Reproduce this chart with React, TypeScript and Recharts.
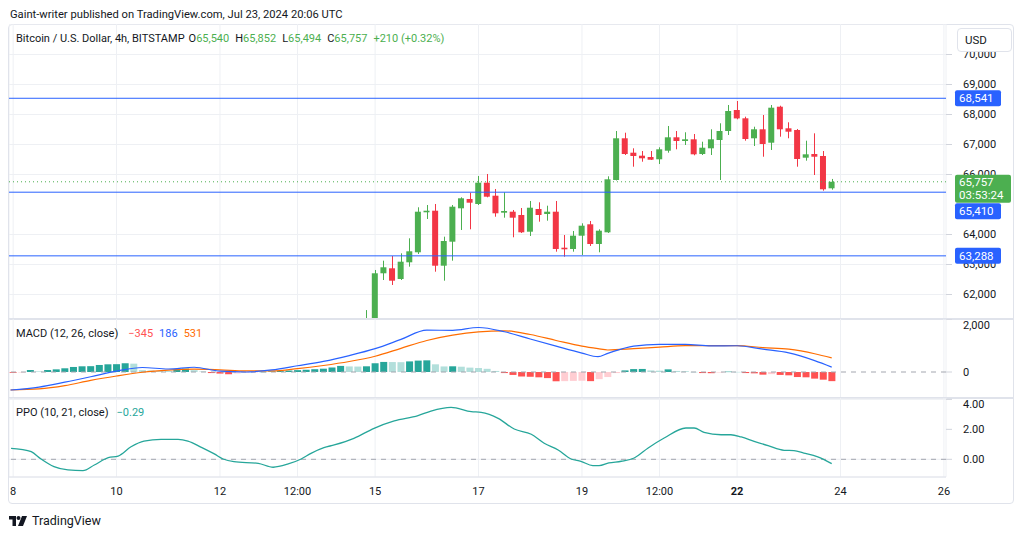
import {
  ComposedChart,
  Bar,
  Line,
  XAxis,
  YAxis,
  CartesianGrid,
  ReferenceLine,
} from 'recharts'

const GREEN = '#4CAF50'
const RED = '#F23645'
const BLUE = '#2962FF'
const ORANGE = '#FF6D00'
const TEAL = '#26A69A'
const GRID = '#eef0f4'
const SEP = '#e0e3eb'
const TEXT = '#131722'
const FONT = 'Roboto, "Noto Sans", sans-serif'

const CHART_W = 1006
const AXIS_W = 69
const X_DOMAIN: [number, number] = [7.92, 26.04]
const PRICE_DOMAIN: [number, number] = [61183, 71017]

// time axis in days of July 2024
const xTicks = [8, 10, 12, 13.5, 15, 17, 19, 20.5, 22, 24, 26]
const xTickLabels = ['8', '10', '12', '12:00', '15', '17', '19', '12:00', '22', '24', '26']
const weekStart = 22

// BTC/USD 4h candles, first one opens Jul 14 20:00
const firstCandle = 14 + 20 / 24
const opens = [
  60950, 61100, 62707, 62873, 62517, 63073, 63407, 64740, 64793, 62960,
  63760, 64873, 65183, 65017, 65727, 65293, 64727, 64760, 64650, 64093,
  64850, 64683, 64760, 63560, 63517, 63960, 64340, 63683, 64073, 65817,
  67207, 66727, 66627, 66583, 66507, 66793, 67240, 67117, 67173, 66683,
  66873, 67150, 67450, 68150, 67873, 67207, 67507, 67060, 68260, 67540,
  67483, 66560, 66683, 66617, 65540,
]
const highs = [
  61480, 62817, 63127, 63283, 63373, 63873, 64907, 64983, 65017, 63927,
  64983, 65240, 65393, 65950, 66017, 65517, 65407, 64817, 64883, 65117,
  65073, 64960, 65117, 63983, 64117, 64373, 64450, 64173, 65940, 67450,
  67393, 66873, 66783, 66783, 66907, 67617, 67450, 67407, 67350, 67093,
  67507, 67707, 68317, 68450, 67927, 67593, 67983, 68317, 68293, 67740,
  67517, 67127, 67373, 66783, 65852,
]
const lows = [
  60650, 61000, 62483, 62317, 62483, 62927, 63350, 64517, 62760, 62460,
  63127, 64150, 64173, 64983, 65240, 64593, 64560, 63907, 64050, 63950,
  64427, 64460, 63427, 63260, 63427, 63317, 63617, 63407, 64050, 65800,
  66650, 66260, 66427, 66483, 66350, 66727, 66840, 66983, 66640, 66650,
  66650, 65817, 67317, 67840, 67127, 66950, 66593, 66817, 67260, 67207,
  66260, 66460, 65983, 65460, 65494,
]
const closes = [
  61150, 62707, 62907, 62460, 63093, 63440, 64760, 64793, 62960, 63783,
  64927, 65207, 65060, 65727, 65260, 64707, 64783, 64560, 64073, 64893,
  64650, 64760, 63517, 63507, 63960, 64293, 63683, 64127, 65840, 67207,
  66683, 66617, 66540, 66493, 66840, 67240, 67117, 67173, 66673, 66893,
  67173, 67450, 68117, 67870, 67183, 67507, 67017, 68227, 67507, 67427,
  66517, 66673, 66593, 65507, 65757,
]
// 65,000 sits fully under the 65,410 tag in the original, so it is left out
const priceTicks = [62000, 63000, 64000, 66000, 67000, 68000, 69000, 70000]
const levels = [68541, 65410, 63288]
const lastPrice = 65757
const countdown = '03:53:24'

// MACD (12, 26, close), histogram one bar per 4h from Jul 8 00:00
const histStart = 8
const macdHist = [
  -30, -20, 75, 25, 75, 100, 140, 190, 215, 220,
  265, 290, 295, 330, 315, 70, 60, 45, 40, 90,
  130, 70, 20, -40, -60, -85, -55, -25, -5, 10,
  25, 40, 55, 70, 85, 105, 125, 170, 230, 210,
  205, 215, 330, 380, 375, 370, 400, 430, 440, 290,
  210, 215, 200, 165, 150, 120, 40, -40, -110, -170,
  -180, -200, -230, -350, -345, -335, -330, -345, -270, -190,
  -40, 60, 110, 115, 60, 50, 100, 40, 30, 5,
  -40, -45, -20, 15, 5, -40, -50, -100, -80, -110,
  -125, -190, -200, -250, -290, -345,
]
const macdDays = [
  7.95, 8.5, 9, 9.5, 10, 10.5, 11, 11.5, 12, 12.5,
  13, 13.5, 14, 14.5, 15, 15.5, 16, 16.5, 17, 17.5,
  18, 18.5, 19, 19.31, 19.5, 20, 20.5, 21, 21.5, 22,
  22.5, 23, 23.5, 23.83,
]
const macdLine = [
  -680, -570, -385, -180, 35, 170, 113, 180, 30, 0,
  78, 235, 400, 620, 880, 1230, 1580, 1570, 1680, 1520,
  1245, 975, 715, 578, 705, 980, 1045, 1045, 985, 990,
  860, 720, 430, 186,
]
const signalLine = [
  -680, -640, -515, -315, -150, -10, 70, 105, 80, 40,
  40, 125, 245, 395, 595, 894, 1190, 1390, 1515, 1555,
  1415, 1190, 975, 880, 830, 880, 940, 994, 994, 994,
  920, 860, 690, 531,
]

// PPO (10, 21, close)
const ppoDays = [
  7.96, 8.15, 8.35, 8.54, 8.79, 9.06, 9.35, 9.57, 9.84, 10.03,
  10.28, 10.53, 10.86, 11.19, 11.38, 11.64, 11.89, 12.06, 12.27, 12.74,
  13.03, 13.32, 13.57, 13.76, 14.01, 14.21, 14.59, 14.98, 15.37, 15.83,
  16.08, 16.47, 16.86, 17.05, 17.38, 17.69, 18.02, 18.27, 18.54, 18.79,
  18.98, 19.21, 19.33, 19.52, 19.76, 20.01, 20.28, 20.59, 21.01, 21.17,
  21.36, 21.69, 21.88, 22.08, 22.33, 22.6, 22.91, 23.1, 23.29, 23.56,
  23.83,
]
const ppoValues = [
  0.73, 0.67, 0.51, 0.02, -0.49, -0.71, -0.76, -0.38, 0.11, 0.22,
  0.84, 1.22, 1.33, 1.33, 1.22, 0.8, 0.36, 0.02, -0.16, -0.27,
  -0.53, -0.31, 0.02, 0.4, 0.78, 0.96, 1.4, 2.07, 2.56, 2.91,
  3.22, 3.47, 3.18, 3.13, 2.73, 2.02, 1.67, 1.07, 0.62, 0.02,
  -0.13, -0.42, -0.42, -0.24, -0.13, 0.09, 0.76, 1.42, 2.09, 2.09,
  1.8, 1.64, 1.64, 1.49, 1.2, 0.91, 0.6, 0.58, 0.42, 0.16,
  -0.29,
]

const candles = opens.map((o, i) => ({
  t: firstCandle + i / 6,
  o,
  h: highs[i],
  l: lows[i],
  c: closes[i],
  range: [lows[i], highs[i]],
}))
const histData = macdHist.map((h, i) => ({ t: histStart + i / 6, h }))
const macdPts = macdDays.map((t, i) => ({ t, v: macdLine[i] }))
const signalPts = macdDays.map((t, i) => ({ t, v: signalLine[i] }))
const ppoPts = ppoDays.map((t, i) => ({ t, v: ppoValues[i] }))

const fmt = (v: number) => v.toLocaleString('en-US')

function histColor(v: number, prev: number) {
  if (v >= 0) return v >= prev ? '#26A69A' : '#B2DFDB'
  return v > prev ? '#FFCDD2' : '#FF5252'
}

function Candle(props: any) {
  const { x, y, width, height, payload } = props
  if (!payload) return null
  const { o, h, l, c } = payload
  const color = c >= o ? GREEN : RED
  const top = Math.min(y, y + height)
  const span = Math.abs(height)
  const k = span / (h - l)
  const bodyTop = top + (h - Math.max(o, c)) * k
  const bodyH = Math.max(1, Math.abs(o - c) * k)
  const cx = Math.round(x + width / 2) + 0.5
  return (
    <g>
      <line x1={cx} x2={cx} y1={top} y2={top + span} stroke={color} strokeWidth={1} />
      <rect x={x} y={bodyTop} width={width} height={bodyH} fill={color} />
    </g>
  )
}

function HistBar(props: any) {
  const { x, y, width, height, index, payload } = props
  if (!payload) return null
  const prev = index > 0 ? histData[index - 1].h : payload.h
  const top = Math.min(y, y + height)
  const cx = x + width / 2
  return <rect x={cx - 3.5} y={top} width={7} height={Math.max(0.5, Math.abs(height))} fill={histColor(payload.h, prev)} />
}

function PriceTag(props: any) {
  const { viewBox, text, fill, shift = 0, sub } = props
  if (!viewBox) return null
  const x = viewBox.x + viewBox.width + 9
  const cy = viewBox.y + shift
  const top = sub ? cy - 7 : cy - 8
  return (
    <g>
      <rect x={x} y={top} width={sub ? 56 : 46} height={sub ? 28 : 16} rx={2} fill={fill} />
      <text x={x + 4} y={top + (sub ? 7 : 8)} dy="0.35em" fill="#fff" fontSize={11.5}>
        {text}
      </text>
      {sub && (
        <text x={x + 4} y={top + 20} dy="0.35em" fill="#fff" fontSize={11.5}>
          {sub}
        </text>
      )}
    </g>
  )
}

function TimeTick({ x, y, payload }: any) {
  const i = xTicks.indexOf(payload.value)
  return (
    <text
      x={x}
      y={y + 14}
      dy="0.35em"
      textAnchor="middle"
      fontSize={11}
      fill={TEXT}
      fontWeight={payload.value === weekStart ? 700 : 400}
    >
      {xTickLabels[i]}
    </text>
  )
}

const axisTick = { fontSize: 11, fill: TEXT }
const noMargin = { top: 0, right: 0, bottom: 0, left: 0 }

function PricePane() {
  return (
    <ComposedChart width={CHART_W} height={295} data={candles} margin={noMargin}>
      <CartesianGrid stroke={GRID} />
      <XAxis type="number" dataKey="t" domain={X_DOMAIN} ticks={xTicks} allowDataOverflow hide />
      <YAxis
        orientation="right"
        width={AXIS_W}
        domain={PRICE_DOMAIN}
        ticks={priceTicks}
        allowDataOverflow
        axisLine={false}
        tickSize={6}
        tickMargin={11}
        tickLine={{ stroke: '#d1d4dc' }}
        tick={axisTick}
        tickFormatter={fmt}
      />
      <Bar dataKey="range" barSize={6} shape={(p: any) => <Candle {...p} />} isAnimationActive={false} />
    </ComposedChart>
  )
}

// horizontal levels and their price tags sit above the candles and the price scale
function LevelsOverlay() {
  return (
    <ComposedChart width={CHART_W} height={295} data={candles} margin={noMargin}>
      <XAxis type="number" dataKey="t" domain={X_DOMAIN} allowDataOverflow hide />
      <YAxis orientation="right" width={AXIS_W} domain={PRICE_DOMAIN} allowDataOverflow tick={false} axisLine={false} tickLine={false} />
      <ReferenceLine
        y={lastPrice}
        stroke={GREEN}
        strokeDasharray="1 3"
        label={<PriceTag text={fmt(lastPrice)} sub={countdown} fill={GREEN} />}
      />
      <ReferenceLine y={levels[0]} stroke={BLUE} label={<PriceTag text={fmt(levels[0])} fill={BLUE} />} />
      <ReferenceLine y={levels[1]} stroke={BLUE} label={<PriceTag text={fmt(levels[1])} fill={BLUE} shift={19} />} />
      <ReferenceLine y={levels[2]} stroke={BLUE} label={<PriceTag text={fmt(levels[2])} fill={BLUE} />} />
    </ComposedChart>
  )
}

function MacdPane() {
  return (
    <ComposedChart width={CHART_W} height={79} data={histData} margin={noMargin}>
      <CartesianGrid stroke={GRID} horizontal={false} />
      <XAxis type="number" dataKey="t" domain={X_DOMAIN} ticks={xTicks} allowDataOverflow hide />
      <YAxis
        orientation="right"
        width={AXIS_W}
        domain={[-981, 2000]}
        ticks={[0, 2000]}
        allowDataOverflow
        axisLine={false}
        tickSize={6}
        tickMargin={11}
        tickLine={{ stroke: '#d1d4dc' }}
        tick={axisTick}
        tickFormatter={fmt}
      />
      <ReferenceLine y={0} stroke="#a3a6af" strokeDasharray="5 5" />
      <Bar dataKey="h" barSize={7} shape={(p: any) => <HistBar {...p} />} isAnimationActive={false} />
      <Line data={signalPts} dataKey="v" type="monotone" stroke={ORANGE} strokeWidth={1.2} dot={false} isAnimationActive={false} />
      <Line data={macdPts} dataKey="v" type="monotone" stroke={BLUE} strokeWidth={1.2} dot={false} isAnimationActive={false} />
    </ComposedChart>
  )
}

function PpoPane() {
  return (
    <ComposedChart width={CHART_W} height={105} data={ppoPts} margin={noMargin}>
      <CartesianGrid stroke={GRID} />
      <XAxis
        type="number"
        dataKey="t"
        domain={X_DOMAIN}
        ticks={xTicks}
        allowDataOverflow
        height={26}
        tickSize={0}
        tickMargin={0}
        axisLine={{ stroke: SEP }}
        tickLine={false}
        tick={<TimeTick />}
        interval={0}
      />
      <YAxis
        orientation="right"
        width={AXIS_W}
        domain={[-1.18, 4.09]}
        ticks={[0, 2, 4]}
        allowDataOverflow
        axisLine={false}
        tickSize={6}
        tickMargin={11}
        tickLine={{ stroke: '#d1d4dc' }}
        tick={axisTick}
        tickFormatter={(v: number) => v.toFixed(2)}
      />
      <ReferenceLine y={0} stroke="#a3a6af" strokeDasharray="5 5" />
      <Line dataKey="v" type="monotone" stroke={TEAL} strokeWidth={1.3} dot={false} isAnimationActive={false} />
    </ComposedChart>
  )
}

const abs = (left: number, top: number, extra: any = {}) => ({
  position: 'absolute' as const,
  left,
  top,
  whiteSpace: 'nowrap' as const,
  lineHeight: '14px',
  ...extra,
})

export default function App() {
  return (
    <div style={{ position: 'relative', width: 1008, height: 528, fontFamily: FONT, color: TEXT, fontSize: 11 }}>
      <div style={abs(2, 0, { fontSize: 11.2 })}>Gaint-writer published on TradingView.com, Jul 23, 2024 20:06 UTC</div>
      <div style={{ position: 'absolute', left: 0, top: 16, width: 1004, height: 478, border: `1px solid ${SEP}`, borderRadius: 4 }} />

      <div style={{ position: 'absolute', left: 1, top: 16 }}>
        <PricePane />
      </div>
      <div style={{ position: 'absolute', left: 1, top: 16, pointerEvents: 'none' }}>
        <LevelsOverlay />
      </div>
      <div style={{ position: 'absolute', left: 1, top: 310, width: 1005, height: 2, background: SEP }} />
      <div style={{ position: 'absolute', left: 1, top: 311 }}>
        <MacdPane />
      </div>
      <div style={{ position: 'absolute', left: 1, top: 389, width: 1005, height: 2, background: SEP }} />
      <div style={{ position: 'absolute', left: 1, top: 390 }}>
        <PpoPane />
      </div>

      <div style={abs(8, 24, { display: 'flex', gap: 6 })}>
        <span style={{ marginRight: -2 }}>Bitcoin / U.S. Dollar, 4h, BITSTAMP</span>
        <span>O<span style={{ color: GREEN }}>65,540</span></span>
        <span>H<span style={{ color: GREEN }}>65,852</span></span>
        <span>L<span style={{ color: GREEN }}>65,494</span></span>
        <span>C<span style={{ color: GREEN }}>65,757</span></span>
        <span style={{ color: GREEN }}>+210 (+0.32%)</span>
      </div>

      <div style={abs(949, 20, { width: 46, height: 22, border: `1px solid ${SEP}`, borderRadius: 4, background: '#fff', lineHeight: '22px', paddingLeft: 7, fontSize: 11.5 })}>USD</div>

      <div style={abs(8, 319, { display: 'flex', gap: 6 })}>
        <span style={{ marginRight: 4 }}>MACD (12, 26, close)</span>
        <span style={{ color: '#FF5252' }}>−345</span>
        <span style={{ color: BLUE }}>186</span>
        <span style={{ color: ORANGE }}>531</span>
      </div>

      <div style={abs(8, 398, { display: 'flex', gap: 8 })}>
        <span>PPO (10, 21, close)</span>
        <span style={{ color: TEAL }}>−0.29</span>
      </div>

      <div style={abs(1, 506, { display: 'flex', alignItems: 'center', gap: 5 })}>
        <svg width={18} height={10} viewBox="0 0 36 20">
          <path d="M0 0h14v20H7V7H0z" fill={TEXT} />
          <circle cx={19} cy={4} r={4} fill={TEXT} />
          <path d="M26 0h10l-8 20h-10z" fill={TEXT} />
        </svg>
        <span style={{ fontSize: 12.5 }}>TradingView</span>
      </div>
    </div>
  )
}
